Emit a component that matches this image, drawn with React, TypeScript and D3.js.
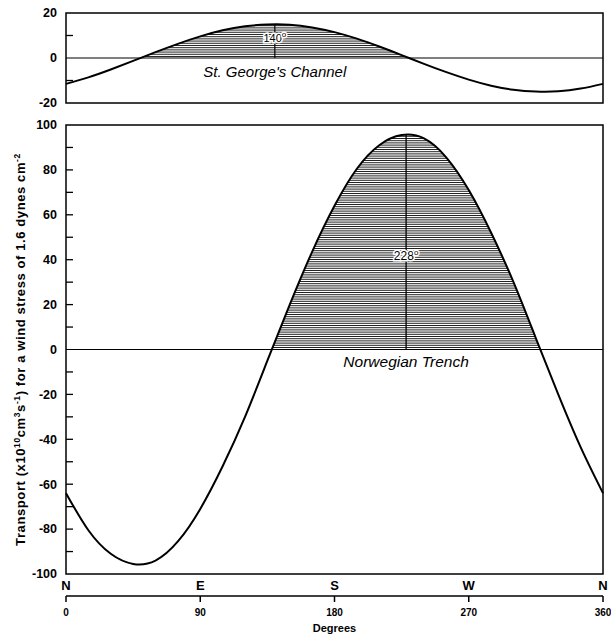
import React from 'react';
import * as d3 from 'd3';

// azimuth of the wind (degrees) and the transport
const degrees = [0, 15, 30, 45, 60, 75, 90, 105, 120, 135, 150, 165, 180, 195, 210, 225, 240, 255, 270, 285, 300, 315, 330, 345, 360];
const norwegianTrench = [-64, -80.5, -91, -95.5, -94, -85.5, -71, -52, -30, -5, 20, 43.5, 64, 80.5, 91, 95.5, 94, 85.5, 71, 52, 30, 5, -20, -43.5, -64];
const stGeorgesChannel = [-11.5, -8.6, -5.1, -1.3, 2.6, 6.3, 9.6, 12.3, 14.1, 14.9, 14.8, 13.6, 11.5, 8.6, 5.1, 1.3, -2.6, -6.3, -9.6, -12.3, -14.1, -14.9, -14.8, -13.6, -11.5];

const mainTicks = [-100, -80, -60, -40, -20, 0, 20, 40, 60, 80, 100];
const mainMinorTicks = [-90, -70, -50, -30, -10, 10, 30, 50, 70, 90];
const topTicks = [-20, 0, 20];
const topMinorTicks = [-10, 10];
const degreeTicks = [0, 90, 180, 270, 360];
const compassLabels = ['N', 'E', 'S', 'W', 'N'];

const trenchPeak = 228;
const channelPeak = 140;

const W = 611;
const H = 637;
const left = 66;
const right = 603;
const font = '"Liberation Sans", Arial, sans-serif';

export default function App() {
  const x = d3.scaleLinear().domain([0, 360]).range([left, right]);
  const yTop = d3.scaleLinear().domain([-20, 20]).range([103, 13]);
  const yMain = d3.scaleLinear().domain([-100, 100]).range([574, 125]);

  const pts = (vals: number[]) => degrees.map((d, i) => [d, vals[i]] as [number, number]);

  const lineMain = d3.line<[number, number]>().x(d => x(d[0])).y(d => yMain(d[1])).curve(d3.curveNatural);
  const lineTop = d3.line<[number, number]>().x(d => x(d[0])).y(d => yTop(d[1])).curve(d3.curveNatural);
  const areaMain = d3.area<[number, number]>().x(d => x(d[0])).y0(yMain(0)).y1(d => yMain(d[1])).curve(d3.curveNatural);
  const areaTop = d3.area<[number, number]>().x(d => x(d[0])).y0(yTop(0)).y1(d => yTop(d[1])).curve(d3.curveNatural);

  const trenchMax = d3.max(norwegianTrench) as number;
  const channelMax = d3.max(stGeorgesChannel) as number;

  // horizontal hatching, in pixel rows
  const hatchMain = d3.range(yMain(trenchMax) - 1, yMain(0), 2.2);
  const hatchTop = d3.range(yTop(channelMax) - 1, yTop(0), 2.2);

  const tickFont = { fontFamily: font, fontWeight: 700, fontSize: 12.5 } as const;

  return (
    <svg width={W} height={H} style={{ position: 'absolute', left: 0, top: 0, background: '#fff' }}>
      <defs>
        <clipPath id="aboveMain"><rect x={left} y={yMain(100)} width={right - left} height={yMain(0) - yMain(100)} /></clipPath>
        <clipPath id="areaMain"><path d={areaMain(pts(norwegianTrench)) || ''} /></clipPath>
        <clipPath id="aboveTop"><rect x={left} y={yTop(20)} width={right - left} height={yTop(0) - yTop(20)} /></clipPath>
        <clipPath id="areaTop"><path d={areaTop(pts(stGeorgesChannel)) || ''} /></clipPath>
      </defs>

      {/* top panel: St. George's Channel */}
      <g clipPath="url(#aboveTop)">
        <g clipPath="url(#areaTop)">
          {hatchTop.map((yy, i) => (
            <line key={i} x1={left} x2={right} y1={yy} y2={yy} stroke="#222" strokeWidth={1} />
          ))}
        </g>
      </g>
      <rect x={left} y={yTop(20)} width={right - left} height={yTop(-20) - yTop(20)} fill="none" stroke="#000" strokeWidth={1.5} />
      <line x1={left} x2={right} y1={yTop(0)} y2={yTop(0)} stroke="#000" strokeWidth={1.2} />
      {topMinorTicks.map(t => (
        <line key={t} x1={left} x2={left + 7} y1={yTop(t)} y2={yTop(t)} stroke="#000" strokeWidth={1.3} />
      ))}
      {topTicks.map(t => (
        <text key={t} x={left - 9} y={yTop(t)} dy="0.35em" textAnchor="end" {...tickFont}>{t}</text>
      ))}
      <line x1={x(channelPeak)} x2={x(channelPeak)} y1={yTop(0)} y2={yTop(channelMax)} stroke="#000" strokeWidth={1.2} />
      <text x={x(channelPeak)} y={yTop(7)} textAnchor="middle" fontFamily={font} fontSize={11}
        stroke="#fff" strokeWidth={3} paintOrder="stroke">
        140<tspan dy={-5} fontSize={8}>o</tspan>
      </text>
      <path d={lineTop(pts(stGeorgesChannel)) || ''} fill="none" stroke="#000" strokeWidth={2} />
      <text x={x(channelPeak)} y={yTop(-8.5)} textAnchor="middle" fontFamily={font} fontStyle="italic" fontSize={15}>
        St. George's Channel
      </text>

      {/* main panel: Norwegian Trench */}
      <g clipPath="url(#aboveMain)">
        <g clipPath="url(#areaMain)">
          {hatchMain.map((yy, i) => (
            <line key={i} x1={left} x2={right} y1={yy} y2={yy} stroke="#222" strokeWidth={1} />
          ))}
        </g>
      </g>
      <rect x={left} y={yMain(100)} width={right - left} height={yMain(-100) - yMain(100)} fill="none" stroke="#000" strokeWidth={1.5} />
      <line x1={left} x2={right} y1={yMain(0)} y2={yMain(0)} stroke="#000" strokeWidth={1.2} />
      {mainTicks.concat(mainMinorTicks).filter(t => t !== 100 && t !== -100 && t !== 0).map(t => (
        <line key={t} x1={left} x2={left + 7} y1={yMain(t)} y2={yMain(t)} stroke="#000" strokeWidth={1.3} />
      ))}
      {mainTicks.map(t => (
        <text key={t} x={left - 9} y={yMain(t)} dy="0.35em" textAnchor="end" {...tickFont}>{t}</text>
      ))}
      <line x1={x(trenchPeak)} x2={x(trenchPeak)} y1={yMain(0)} y2={yMain(trenchMax)} stroke="#000" strokeWidth={1.3} />
      <text x={x(trenchPeak)} y={yMain(40)} textAnchor="middle" fontFamily={font} fontSize={12}
        stroke="#fff" strokeWidth={3} paintOrder="stroke">
        228<tspan dy={-5} fontSize={8}>o</tspan>
      </text>
      <path d={lineMain(pts(norwegianTrench)) || ''} fill="none" stroke="#000" strokeWidth={2} />
      <text x={x(trenchPeak)} y={yMain(-8)} textAnchor="middle" fontFamily={font} fontStyle="italic" fontSize={15.5}>
        Norwegian Trench
      </text>

      {/* degree axis */}
      <line x1={left} x2={right} y1={596} y2={596} stroke="#000" strokeWidth={1.5} />
      {degreeTicks.map((t, i) => (
        <g key={t}>
          <line x1={x(t)} x2={x(t)} y1={596} y2={602} stroke="#000" strokeWidth={1.5} />
          <text x={x(t)} y={590} textAnchor="middle" fontFamily={font} fontWeight={700} fontSize={13}>{compassLabels[i]}</text>
          <text x={x(t)} y={616} textAnchor="middle" fontFamily={font} fontWeight={700} fontSize={10}>{t}</text>
        </g>
      ))}
      <text x={(left + right) / 2} y={632} textAnchor="middle" fontFamily={font} fontWeight={700} fontSize={11}>Degrees</text>

      {/* y axis title */}
      <text transform={`translate(25,${yMain(0)}) rotate(-90)`} textAnchor="middle" fontFamily={font} fontWeight={700} fontSize={13} letterSpacing={0.6}>
        Transport (x10<tspan dy={-5} fontSize={8.5}>10</tspan><tspan dy={5}>cm</tspan><tspan dy={-5} fontSize={8.5}>3</tspan><tspan dy={5}>s</tspan><tspan dy={-5} fontSize={8.5}>-1</tspan><tspan dy={5}>)  for  a  wind  stress  of  1.6 dynes  cm</tspan><tspan dy={-5} fontSize={8.5}>-2</tspan>
      </text>
    </svg>
  );
}
